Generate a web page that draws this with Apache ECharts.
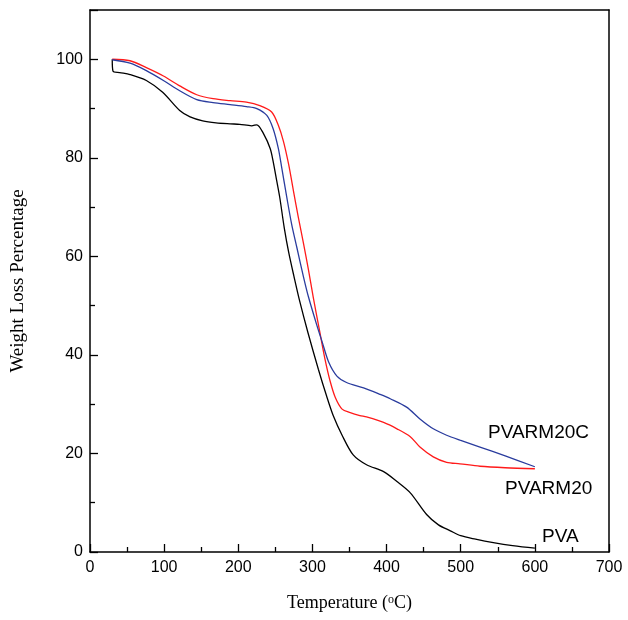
<!DOCTYPE html>
<html>
<head>
<meta charset="utf-8">
<script src="https://cdn.jsdelivr.net/npm/echarts@6/dist/echarts.min.js"></script>
<style>html,body{margin:0;padding:0;background:#fff}#c{width:628px;height:620px}</style>
</head>
<body>
<div id="c"></div>
<script>
// Temperature (°C) and weight (%) arrays
const pvaT = [30, 31, 40, 54, 76, 98, 121, 135, 152, 170, 189, 202, 218, 225, 234, 243, 247, 252, 256, 262, 268, 275, 283, 294, 308, 319, 328, 340, 355, 373, 396, 414, 432, 454, 470, 486, 500, 520, 544, 570, 600];
const pvaW = [100, 97.6, 97.3, 96.9, 95.7, 93.3, 89.6, 88.3, 87.5, 87.1, 86.9, 86.8, 86.5, 86.7, 84.9, 81.9, 79.3, 75.2, 71.9, 65.8, 60.8, 56, 50.8, 44.5, 37.1, 31.7, 27.7, 23.7, 19.7, 17.7, 16.3, 14.3, 12, 7.6, 5.5, 4.3, 3.3, 2.6, 1.9, 1.3, 0.8];

const rmT = [30, 54, 76, 99, 121, 144, 166, 189, 211, 229, 245, 254, 261, 268, 274.5, 281, 288, 294.6, 301, 310, 317, 324, 331, 340, 351, 364, 373, 396, 414, 432, 445, 463, 481, 499, 526, 560, 600];
const rmW = [100, 99.7, 98.3, 96.6, 94.6, 92.8, 92, 91.6, 91.3, 90.6, 89.3, 86.6, 83.3, 78.6, 73.2, 67.9, 62.6, 57.3, 51.8, 44.6, 39.1, 34.6, 31.3, 29, 28.3, 27.7, 27.4, 26.3, 25, 23.4, 21.3, 19.3, 18.2, 17.9, 17.4, 17.1, 16.9];

const rmcT = [30, 54, 76, 99, 121, 144, 166, 189, 211, 225, 238.5, 247, 254, 258.7, 265.5, 272, 279, 288, 294.6, 306, 313, 322, 333, 346, 369, 391, 405, 427, 445, 463, 481, 499, 526, 560, 600];
const rmcW = [99.9, 99.2, 97.7, 95.7, 93.6, 91.8, 91.2, 90.8, 90.4, 90, 88.6, 85.9, 81.9, 77.9, 71.9, 66.5, 61.8, 55.8, 51.8, 46, 42.7, 38.5, 35.7, 34.4, 33.3, 32, 31.1, 29.4, 27, 25, 23.7, 22.7, 21.3, 19.5, 17.3];

const seriesNames = ['PVA', 'PVARM20', 'PVARM20C'];
const xTicks = [0, 100, 200, 300, 400, 500, 600, 700];
const yTicks = [0, 20, 40, 60, 80, 100];

const zip = (a, b) => a.map((v, i) => [v, b[i]]);

const chart = echarts.init(document.getElementById('c'), null, {renderer: 'canvas'});
const tickFont = {fontFamily: 'Liberation Sans, Arial, sans-serif', fontSize: 16, color: '#000'};
const lineStyleBase = {width: 1.3};

chart.setOption({
  animation: false,
  backgroundColor: '#fff',
  grid: {left: 90, right: 19, top: 10, bottom: 62, containLabel: false},
  xAxis: [{
    type: 'value', min: xTicks[0], max: xTicks[xTicks.length - 1], interval: 100,
    position: 'bottom',
    axisLine: {show: true, onZero: false, lineStyle: {color: '#000', width: 1.5}},
    axisTick: {show: true, inside: true, length: 8, lineStyle: {color: '#000', width: 1.3}},
    minorTick: {show: true, splitNumber: 2, length: 5, lineStyle: {color: '#000', width: 1.3}},
    axisLabel: Object.assign({margin: 8}, tickFont),
    splitLine: {show: false},
    name: '{a|Temperature (}{s|o}{a|C)}',
    nameLocation: 'middle', nameGap: 42,
    nameTextStyle: {
      rich: {
        a: {fontFamily: 'Liberation Serif, Times New Roman, serif', fontSize: 18, color: '#000'},
        s: {fontFamily: 'Liberation Serif, Times New Roman, serif', fontSize: 12, color: '#000', verticalAlign: 'top', lineHeight: 18, padding: [0, 0, 9, 0]}
      }
    }
  }, {
    type: 'value', min: 0, max: 700, position: 'top',
    axisLine: {show: true, onZero: false, lineStyle: {color: '#000', width: 1.5}},
    axisTick: {show: false}, axisLabel: {show: false}, splitLine: {show: false}
  }],
  yAxis: [{
    type: 'value', min: 0, max: 110, interval: 20,
    position: 'left',
    axisLine: {show: true, onZero: false, lineStyle: {color: '#000', width: 1.5}},
    axisTick: {show: true, inside: true, length: 8, lineStyle: {color: '#000', width: 1.3}},
    minorTick: {show: true, splitNumber: 2, length: 5, lineStyle: {color: '#000', width: 1.3}},
    axisLabel: Object.assign({margin: 7, formatter: v => (yTicks.indexOf(v) >= 0 ? String(v) : '')}, tickFont),
    splitLine: {show: false},
    name: 'Weight Loss Percentage', nameLocation: 'middle', nameGap: 62,
    nameTextStyle: {fontFamily: 'Liberation Serif, Times New Roman, serif', fontSize: 19, color: '#000'}
  }, {
    type: 'value', min: 0, max: 110, position: 'right',
    axisLine: {show: true, onZero: false, lineStyle: {color: '#000', width: 1.5}},
    axisTick: {show: false}, axisLabel: {show: false}, splitLine: {show: false}
  }],
  series: [
    {name: seriesNames[0], type: 'line', data: zip(pvaT, pvaW), showSymbol: false, smooth: 0.3,
     lineStyle: Object.assign({color: '#000000'}, lineStyleBase), itemStyle: {color: '#000'}},
    {name: seriesNames[1], type: 'line', data: zip(rmT, rmW), showSymbol: false, smooth: 0.3,
     lineStyle: Object.assign({color: '#ff1a1a'}, lineStyleBase), itemStyle: {color: '#ff1a1a'}},
    {name: seriesNames[2], type: 'line', data: zip(rmcT, rmcW), showSymbol: false, smooth: 0.3,
     lineStyle: Object.assign({color: '#2a3c9e'}, lineStyleBase), itemStyle: {color: '#2a3c9e'}}
  ],
  graphic: [
    {type: 'text', left: 488, top: 423, style: {text: seriesNames[2], font: '19px "Liberation Sans", Arial, sans-serif', fill: '#000'}},
    {type: 'text', left: 505, top: 479, style: {text: seriesNames[1], font: '19px "Liberation Sans", Arial, sans-serif', fill: '#000'}},
    {type: 'text', left: 542, top: 527, style: {text: seriesNames[0], font: '19px "Liberation Sans", Arial, sans-serif', fill: '#000'}}
  ]
});
</script>
</body>
</html>
